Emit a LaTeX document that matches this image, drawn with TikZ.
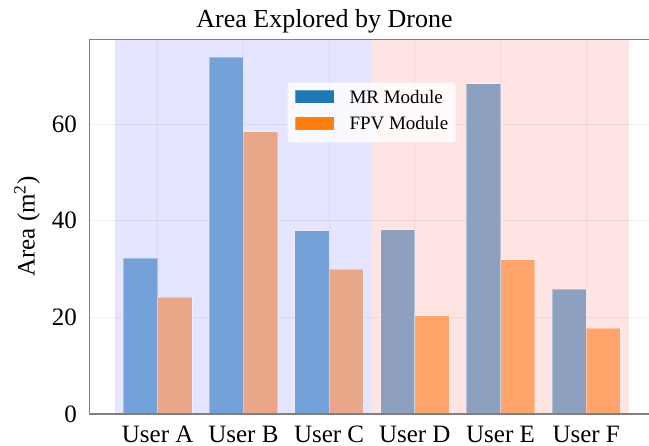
\documentclass[tikz,border=0pt]{standalone}
\usepackage{fontspec}
\setmainfont{Liberation Serif}
\usepackage{xcolor}
\definecolor{mrblue}{RGB}{116,161,216}
\definecolor{fpvsalmon}{RGB}{231,167,136}
\definecolor{mrgrey}{RGB}{141,160,192}
\definecolor{fpvorange}{RGB}{255,164,106}
\definecolor{bandblue}{RGB}{229,229,255}
\definecolor{bandpink}{RGB}{255,228,228}
\definecolor{tabblue}{RGB}{31,119,180}
\definecolor{taborange}{RGB}{255,127,14}
\definecolor{spinegrey}{RGB}{128,128,128}
\usepackage{tikz}

\begin{document}
\begin{tikzpicture}[x=1pt, y=1pt,
    databar/.style={draw=white, draw opacity=0.35, line width=0.8pt},
    gridln/.style={draw=black, draw opacity=0.05, line width=0.7pt},
    spine/.style={draw=spinegrey, line width=1.2pt},
    ticklbl/.style={font=\fontsize{25}{28}\selectfont, inner sep=0pt},
    legpatch/.style={draw=white, draw opacity=0.3, line width=0.8pt},
    legtxt/.style={font=\fontsize{19}{22}\selectfont, inner sep=0pt, anchor=west},
  ]
    \useasboundingbox (0,0) rectangle (649,446);

    % data area: one unit per user, one unit per m^2
    \begin{scope}[shift={(157.7,32)}, x=85.7pt, y=4.833pt]
      \fill[bandblue] (-0.5,0) rectangle (2.5,77.5);
      \fill[bandpink] (2.5,0) rectangle (5.5,77.5);

      \foreach \i in {0,...,5}
        \draw[gridln] (\i,0) -- (\i,77.5);
      \foreach \v in {20,40,60}
        \draw[gridln] (-0.8,\v) -- (5.73,\v);

      \foreach \i/\m/\f in {0/32.2/24.2, 1/73.8/58.4, 2/37.9/29.9} {
        \filldraw[databar, fill=mrblue] (\i-0.4,0) rectangle (\i,\m);
        \filldraw[databar, fill=fpvsalmon] (\i,0) rectangle (\i+0.4,\f);
      }
      \foreach \i/\m/\f in {3/38.1/20.3, 4/68.3/31.9, 5/25.8/17.7} {
        \filldraw[databar, fill=mrgrey] (\i-0.4,0) rectangle (\i,\m);
        \filldraw[databar, fill=fpvorange] (\i,0) rectangle (\i+0.4,\f);
      }

      \draw[spine] (5.73,77.5) -- (-0.8,77.5) -- (-0.8,0) -- (5.73,0);

      \foreach \v in {0,20,40,60}
        \node[ticklbl, anchor=east] (ytick\v) at ([xshift=-12pt]-0.8,\v) {\v};

      \foreach \i/\u in {0/A,1/B,2/C,3/D,4/E,5/F}
        \node[ticklbl, anchor=base] (xtick\u) at ([yshift=-29pt]\i,0) {User \u};
    \end{scope}

    \node[ticklbl, rotate=90] (ylabel) at (27,219.3) {Area (m\textsuperscript{2})};
    \node[font=\fontsize{26}{30}\selectfont, inner sep=0pt, anchor=base] (title) at (324.5,418) {Area Explored by Drone};

    % legend
    \fill[white, fill opacity=0.8, rounded corners=3pt] (287.7,303.7) rectangle (455.7,363.3);
    \filldraw[legpatch, fill=tabblue] (295.3,342.7) rectangle (334,356);
    \filldraw[legpatch, fill=taborange] (295.3,315.7) rectangle (334,329.3);
    \node[legtxt] (legmr)  at (349.3,349.3) {MR Module};
    \node[legtxt] (legfpv) at (349.3,322.5) {FPV Module};
  \end{tikzpicture}
\end{document}
